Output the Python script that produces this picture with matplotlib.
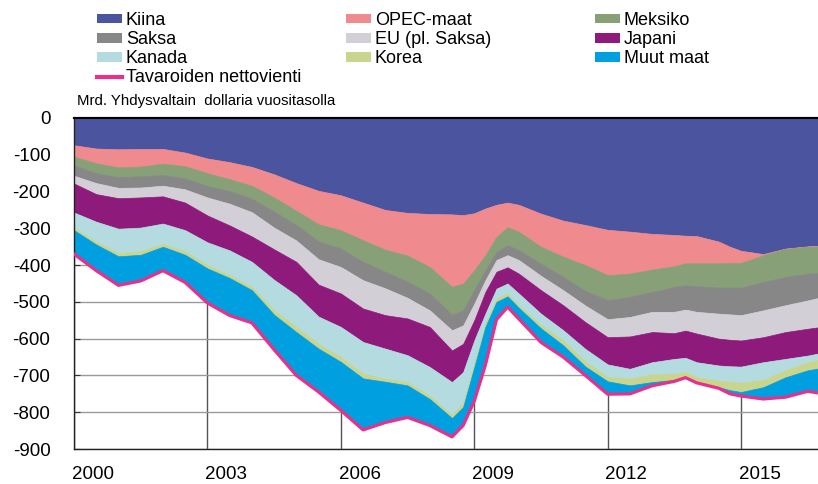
import numpy as np
import matplotlib
matplotlib.use('Agg')
import matplotlib.pyplot as plt
from matplotlib.patches import Patch
from matplotlib.lines import Line2D

plt.rcParams['font.family'] = ['Liberation Sans', 'DejaVu Sans']

# Quarter/half-year points (year as decimal)
years = [2000.0, 2000.5, 2001.0, 2001.5, 2002.0, 2002.5, 2003.0, 2003.5, 2004.0, 2004.5,
         2005.0, 2005.5, 2006.0, 2006.5, 2007.0, 2007.5, 2008.0, 2008.5, 2008.75, 2009.0,
         2009.25, 2009.5, 2009.75, 2010.0, 2010.5, 2011.0, 2011.5, 2012.0, 2012.5, 2013.0,
         2013.5, 2013.75, 2014.0, 2014.5, 2014.75, 2015.0, 2015.5, 2016.0, 2016.5, 2016.75]

# Bilateral goods trade balance, bn USD annualised
kiina = [-74, -83, -85, -84, -84, -94, -110, -120, -133, -153,
         -177, -198, -210, -230, -250, -258, -261, -262, -264, -259,
         -246, -236, -230, -236, -260, -279, -291, -304, -309, -315,
         -318, -320, -321, -336, -350, -361, -370, -355, -349, -348]
opec = [-31, -40, -49, -48, -40, -37, -40, -46, -51, -63,
        -75, -91, -95, -102, -108, -116, -144, -197, -186, -155,
        -127, -87, -67, -73, -90, -98, -109, -123, -114, -97,
        -85, -75, -74, -59, -44, -33, -3, -1, -1, -1]
meksiko = [-24, -27, -27, -26, -31, -33, -35, -33, -35, -38,
           -39, -46, -50, -59, -60, -71, -72, -76, -73, -54,
           -41, -41, -49, -50, -46, -55, -70, -68, -63, -61,
           -56, -60, -62, -66, -67, -67, -73, -76, -73, -72]
saksa = [-28, -27, -29, -31, -29, -30, -31, -34, -37, -44,
         -42, -49, -50, -50, -45, -44, -46, -42, -41, -37,
         -27, -22, -27, -27, -33, -36, -40, -52, -55, -54,
         -68, -66, -70, -71, -73, -75, -77, -77, -73, -68]
eu = [-21, -30, -28, -27, -29, -36, -49, -59, -66, -59,
      -58, -69, -72, -77, -73, -56, -45, -55, -50, -45,
      -32, -32, -33, -37, -39, -41, -45, -49, -53, -55,
      -58, -57, -59, -68, -69, -69, -73, -73, -77, -80]
japani = [-79, -75, -83, -82, -74, -75, -73, -68, -69, -83,
          -91, -87, -91, -91, -91, -100, -109, -86, -77, -55,
          -59, -46, -44, -54, -64, -68, -73, -74, -88, -82,
          -70, -74, -78, -73, -72, -71, -68, -73, -73, -71]
kanada = [-41, -54, -66, -64, -55, -57, -62, -67, -68, -83,
          -86, -74, -82, -86, -82, -73, -78, -89, -82, -63,
          -27, -27, -27, -32, -30, -28, -34, -34, -27, -33,
          -40, -39, -41, -41, -42, -44, -48, -31, -18, -17]
korea = [-7, -8, -9, -10, -8, -10, -9, -8, -9, -12,
         -14, -13, -13, -13, -8, -9, -9, -9, -13, -10,
         -9, -9, -8, -7, -10, -13, -14, -12, -18, -21,
         -17, -12, -13, -18, -23, -25, -20, -19, -22, -24]
muut = [-65, -71, -79, -71, -65, -75, -94, -102, -89, -95,
        -118, -118, -132, -140, -111, -87, -72, -51, -50, -92,
        -104, -48, -29, -30, -38, -32, -24, -35, -23, -10,
        -4, -3, -2, -3, -10, -11, -32, -54, -57, -67]
nettovienti = [-370, -415, -455, -443, -415, -447, -503, -537, -557, -630,
               -700, -745, -795, -848, -828, -814, -836, -867, -836, -770,
               -672, -548, -514, -546, -610, -650, -700, -751, -750, -728,
               -716, -706, -720, -735, -750, -756, -764, -759, -743, -748]

labels = ['Kiina', 'OPEC-maat', 'Meksiko', 'Saksa', 'EU (pl. Saksa)', 'Japani',
          'Kanada', 'Korea', 'Muut maat']
colors = ['#4B549F', '#EF8A8F', '#88A078', '#878787', '#D3CFD6', '#8E1A7B',
          '#B4DCE0', '#C9D48C', '#009FE0']
line_color = '#E8308A'

fig = plt.figure(figsize=(8.18, 4.84), dpi=100)
ax = fig.add_axes([74 / 818, 1 - 449 / 484, 1 - 74 / 818, (449 - 118) / 484])

ax.stackplot(years, kiina, opec, meksiko, saksa, eu, japani, kanada, korea, muut,
             colors=colors, edgecolor='face', linewidth=0.5, zorder=2)
ax.plot(years, nettovienti, color=line_color, lw=2.3, zorder=3)

ax.set_xlim(2000, 2016.73)
ax.set_ylim(-900, 0)

# gridlines
ax.set_xticks(range(2000, 2016, 3))
ax.set_xticklabels([])
ax.set_yticks(range(-900, 1, 100))
ax.set_yticklabels([str(v) for v in range(-900, 1, 100)], fontsize=13.5)
ax.tick_params(axis='x', which='major', length=0)
ax.tick_params(axis='y', direction='in', length=4, pad=17, color='#333333')
ax.grid(axis='y', color='#9a9a9a', lw=1, zorder=0)
ax.grid(axis='x', color='#555555', lw=1, zorder=0)
ax.set_axisbelow(True)

# year labels between gridlines
label_years = list(range(2000, 2016, 3))
ax.set_xticks([y + 0.42 for y in label_years], [str(y) for y in label_years], minor=True)
ax.tick_params(axis='x', which='minor', length=0, pad=12, labelsize=13.5)

# yearly ticks on the top frame
top = ax.secondary_xaxis('top')
top.set_xticks(range(2001, 2017))
top.set_xticklabels([])
top.tick_params(direction='in', length=4, width=1, color='#222222')
top.spines['top'].set_linewidth(1.5)

for s in ['left', 'bottom']:
    ax.spines[s].set_color('#222222')
    ax.spines[s].set_linewidth(1)
ax.spines['top'].set_linewidth(1.5)
ax.spines['right'].set_visible(False)

fig.text(77 / 818, 1 - 101 / 484, 'Mrd. Yhdysvaltain  dollaria vuositasolla',
         fontsize=10.8, va='center', ha='left')

# legend in three columns
patches = [Patch(facecolor=c, edgecolor='none', label=l) for c, l in zip(colors, labels)]
line_handle = Line2D([], [], color=line_color, lw=3, label='Tavaroiden nettovienti')
columns = [[patches[0], patches[3], patches[6], line_handle],
           [patches[1], patches[4], patches[7]],
           [patches[2], patches[5], patches[8]]]
col_x = [97, 346, 595]
for hs, cx in zip(columns, col_x):
    fig.legend(handles=hs, loc='upper left', bbox_to_anchor=(cx / 818, 1 - 12 / 484),
               frameon=False, fontsize=13, handlelength=1.4, handleheight=0.45,
               handletextpad=0.2, labelspacing=0.12, borderpad=0, borderaxespad=0)

fig.savefig('out.png', dpi=100)
